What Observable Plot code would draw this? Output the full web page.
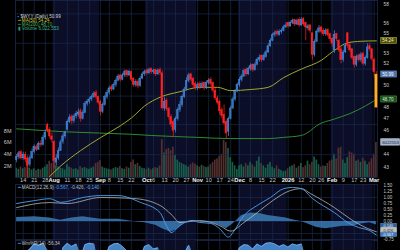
<!DOCTYPE html>
<html><head><meta charset="utf-8">
<script src="https://cdn.jsdelivr.net/npm/d3@7"></script>
<script src="https://cdn.jsdelivr.net/npm/@observablehq/plot@0.6"></script>
<style>
html,body{margin:0;padding:0;background:#000;}
#chart{position:relative;width:400px;height:250px;overflow:hidden;background:#000;}
#chart svg{position:absolute;left:0;display:block;}
</style></head><body><div id="chart"></div>
<script>
// ---------------- data ----------------
const symbol = "$WYY";
const firstSession = "2025-07-09";
const marketHolidays = ["2025-09-01","2025-11-27","2025-12-25","2026-01-01","2026-01-19","2026-02-16"];

const opens = [
43.55,43.8,44.2,43.7,44.0,43.7,43.2,43.7,44.2,44.6,
44.4,44.9,44.8,45.4,46.45,46.05,45.5,45.05,43.35,43.7,
44.3,45.05,45.5,46.05,46.7,47.15,46.8,47.2,47.35,47.65,
47.0,47.5,48.3,48.5,48.7,48.9,49.3,48.9,48.5,47.6,
48.2,48.9,49.3,49.8,49.6,50.0,50.4,50.9,50.5,50.9,
51.3,50.9,51.2,50.6,50.0,50.3,49.9,50.6,51.0,51.3,
51.1,51.5,51.2,51.4,51.0,51.4,51.1,47.9,48.6,47.85,
47.15,46.7,46.05,47.0,47.75,48.2,48.9,49.6,50.4,51.0,
50.6,50.1,49.7,50.1,49.8,50.2,49.7,50.2,50.5,50.2,
49.5,48.8,48.5,47.75,47.35,46.7,45.9,47.0,47.9,48.7,
49.4,50.0,50.5,50.8,51.4,51.0,51.5,51.9,51.4,51.9,
52.35,52.75,52.35,52.65,53.1,53.7,54.25,54.8,55.15,54.8,
55.15,55.25,55.6,56.05,55.7,56.05,56.35,55.9,56.35,55.8,
56.45,56.05,55.5,55.8,55.0,52.85,54.15,55.15,55.6,55.25,
54.9,55.35,54.9,54.45,53.3,54.9,54.25,53.4,52.35,53.1,
55.0,53.8,53.4,52.65,51.9,52.75,52.35,52.95,52.0,52.55,
53.7,53.4,52.35,47.97];
const highs = [
44.0,44.25,44.35,44.2,44.2,43.9,43.9,44.45,44.8,44.8,
45.05,45.15,45.6,46.05,46.6,46.25,45.8,45.15,44.0,44.55,
45.2,45.7,45.95,46.9,47.35,47.35,47.35,47.65,47.85,47.85,
47.75,48.5,48.7,48.9,49.1,49.4,49.5,49.0,48.6,48.4,
49.1,49.5,49.9,50.0,50.2,50.6,51.0,51.0,51.1,51.4,
51.4,51.4,51.3,50.7,50.5,50.5,50.8,51.2,51.4,51.5,
51.6,51.6,51.5,51.5,51.5,51.6,51.3,48.9,48.8,48.0,
47.35,46.9,47.15,47.95,48.5,49.1,49.8,50.7,51.1,51.1,
50.7,50.3,50.2,50.3,50.3,50.3,50.4,50.6,50.7,50.3,
49.7,49.0,48.6,47.95,48.2,46.9,47.15,48.1,48.9,49.6,
50.2,50.7,51.0,51.5,51.6,51.7,52.0,52.0,52.1,52.55,
52.85,52.85,52.95,53.3,53.95,54.45,55.0,55.25,55.35,55.35,
55.45,55.8,56.05,56.15,56.25,56.45,56.45,56.45,56.6,56.6,
56.6,56.15,55.9,55.9,55.1,54.35,55.35,55.8,55.7,55.45,
55.45,55.45,55.0,54.55,55.25,55.0,54.35,53.6,53.3,53.95,
55.1,53.95,53.5,52.75,52.85,52.95,53.1,53.1,52.75,53.95,
53.95,53.5,52.55,51.25];
const lows = [
43.35,43.6,43.55,43.55,43.35,42.1,43.0,43.6,44.05,44.25,
44.35,44.6,44.7,45.2,45.8,45.3,44.95,42.85,43.1,43.55,
44.25,44.85,45.3,45.95,46.6,46.5,46.6,47.0,47.15,46.7,
46.9,47.45,48.1,48.3,48.5,48.8,48.7,48.2,47.25,47.45,
48.1,48.7,49.1,49.4,49.5,49.8,50.3,50.3,50.4,50.7,
50.7,50.8,50.3,49.8,49.8,49.7,49.8,50.5,50.8,50.9,
51.0,51.0,51.0,50.8,50.9,50.9,47.75,47.65,47.65,46.9,
46.25,45.4,45.8,46.8,47.55,48.0,48.8,49.5,50.2,50.3,
49.8,49.5,49.5,49.6,49.7,49.5,49.6,50.0,49.9,49.3,
48.6,48.2,47.35,47.0,46.45,45.3,45.5,46.9,47.8,48.5,
49.3,49.8,50.3,50.7,50.8,50.9,51.3,51.2,51.3,51.8,
52.15,52.15,52.25,52.55,53.0,53.6,54.15,54.6,54.7,54.7,
54.9,55.15,55.5,55.5,55.6,55.9,55.7,55.8,55.6,55.7,
55.7,54.25,55.25,55.0,52.35,52.65,54.05,55.0,54.9,54.7,
54.7,54.6,54.15,53.6,53.0,54.15,53.1,52.0,52.15,53.0,
53.5,53.1,52.35,51.6,51.7,52.15,52.15,51.8,51.8,52.45,
53.2,52.25,50.7,47.9];
const closes = [
43.8,44.1,43.7,44.0,43.6,43.1,43.7,44.2,44.6,44.4,
44.9,44.8,45.4,45.8,46.0,45.5,45.2,43.5,43.7,44.3,
45.0,45.5,45.8,46.7,47.1,46.8,47.2,47.4,47.55,47.0,
47.5,48.3,48.5,48.7,48.9,49.2,48.9,48.4,47.6,48.2,
48.9,49.3,49.7,49.6,50.0,50.4,50.8,50.5,50.9,51.2,
50.9,51.2,50.5,50.0,50.3,49.9,50.6,51.0,51.2,51.1,
51.4,51.2,51.3,51.0,51.3,51.1,47.9,48.5,47.85,47.15,
46.5,45.95,47.0,47.75,48.2,48.9,49.6,50.4,50.9,50.5,
50.0,49.7,50.0,49.8,50.1,49.7,50.2,50.4,50.1,49.5,
48.8,48.4,47.65,47.25,46.6,45.75,47.0,47.9,48.7,49.4,
50.0,50.5,50.8,51.3,51.0,51.5,51.8,51.4,51.9,52.35,
52.55,52.35,52.75,53.1,53.7,54.25,54.8,55.0,54.9,55.15,
55.25,55.6,55.8,55.7,56.05,56.25,55.9,56.25,55.8,56.35,
55.9,55.6,55.7,55.25,52.85,54.15,55.15,55.5,55.15,54.9,
55.25,54.8,54.4,53.95,54.8,54.4,53.3,52.35,53.1,53.75,
53.75,53.3,52.55,51.9,52.65,52.35,52.85,52.0,52.55,53.6,
53.4,52.45,51.2,50.99];
const volumeMillions = [
1.6,1.4,1.8,1.5,1.7,2.6,1.6,1.3,1.5,1.2,
1.4,1.3,1.6,1.8,2.2,2.8,2.4,3.2,2.0,1.8,
1.6,1.5,1.3,2.2,1.8,1.6,1.4,1.5,1.3,1.9,
1.6,1.7,1.5,1.4,1.6,1.8,2.4,2.6,2.9,1.8,
1.6,1.5,1.4,1.3,1.5,1.7,1.6,1.9,1.5,1.4,
1.8,1.6,2.6,3.0,2.2,2.4,1.9,1.6,1.5,1.4,
1.6,1.3,1.5,1.7,1.6,2.0,6.5,4.2,4.8,5.0,
4.6,5.2,3.8,3.0,2.6,2.4,2.2,2.0,1.8,2.2,
2.5,2.3,2.0,1.8,2.1,1.9,1.7,1.8,2.2,2.6,
3.0,3.2,3.6,4.0,6.4,6.0,5.0,3.4,2.6,2.0,
1.4,2.0,2.2,1.8,2.4,2.0,2.6,2.2,1.8,2.8,
3.5,2.4,2.0,1.6,2.2,2.6,1.8,1.5,2.0,1.4,
1.2,1.0,1.1,1.5,1.8,2.0,2.2,1.6,1.9,2.4,
1.7,2.0,2.8,2.2,2.6,3.5,3.0,2.2,1.8,2.0,
1.9,2.4,2.8,3.0,4.0,3.2,5.0,5.2,3.0,2.4,
3.4,4.4,4.2,4.0,2.8,3.0,2.6,3.3,2.8,2.2,
2.6,3.2,4.0,6.02];

// moving averages, sampled along the trading-day index
const ma50Day = [14,20,29,38,47,52,58,65,74,83,91,97,106,114,121,129,138,144,150,156,163];
const ma50Val = [42.1,43.1,44.33,45.4,46.4,47.07,48.12,48.9,49.4,49.8,49.8,49.5,49.6,49.8,50.7,51.5,52.33,53.3,54.05,54.2,54.24];
const ma200Day = [0,23,52,61,82,97,114,121,129,133,136,144,151,158,163];
const ma200Val = [46.14,45.88,45.68,45.58,45.42,45.32,45.32,45.42,45.58,45.97,46.42,46.98,47.45,48.12,48.7];

// MACD(12,26,9)
const macdDay = [0,8,15,20,30,38,46,56,65,68,70,74,79,83,88,92,96,98,103,109,115,121,125,129,134,144,150,155,160,163];
const macdVal = [0.75,0.87,0.95,0.80,1.00,1.08,1.08,0.80,0.37,-0.2,-0.46,-0.17,0.04,-0.04,-0.08,-0.30,-0.65,-0.46,0.25,0.67,1.00,1.37,1.42,1.37,0.96,0.37,-0.04,-0.25,-0.38,-0.567];
const signalDay = [0,15,23,38,53,65,70,74,83,92,97,103,109,116,124,129,133,144,151,159,163];
const signalVal = [0.58,0.79,0.75,1.0,0.96,0.67,0.3,-0.04,0.04,-0.17,-0.40,-0.04,0.37,0.87,1.29,1.37,1.17,0.58,0.12,-0.29,-0.426];
const histDay = [0,8,15,20,25,30,38,46,53,58,63,66,70,73,76,80,84,88,92,95,98,102,106,110,114,118,122,126,129,132,136,140,144,148,152,156,160,163];
const histVal = [0.17,0.2,0.15,0.05,0.15,0.2,0.1,0.1,0.0,-0.05,-0.15,-0.3,-0.45,-0.3,-0.05,0.05,-0.05,-0.05,-0.15,-0.3,-0.1,0.25,0.35,0.33,0.25,0.2,0.15,0.05,0.0,-0.1,-0.25,-0.3,-0.25,-0.2,-0.2,-0.1,-0.05,-0.14];

// Williams %R(14)
const wmrDay = [0,3,6,8,10,12,14,16,17,19,21,23,25,27,29,31,33,35,37,38,40,42,44,46,48,50,52,54,56,58,60,62,64,66,68,71,73,75,77,78,80,82,85,87,89,91,93,95,97,99,101,103,105,107,109,111,113,115,117,119,121,123,125,127,129,131,134,136,138,140,142,144,146,148,150,152,154,156,158,160,162,163];
const wmrVal = [-30,-20,-12,-4,-6,-3,-15,-45,-85,-40,-10,-3,-8,-4,-25,-5,-3,-4,-40,-70,-25,-8,-4,-3,-8,-15,-45,-50,-25,-8,-5,-12,-10,-90,-92,-97,-60,-35,-12,-6,-25,-30,-35,-25,-55,-75,-90,-97,-55,-25,-10,-5,-6,-12,-4,-8,-3,-2,-4,-8,-5,-9,-4,-6,-4,-30,-85,-35,-30,-28,-45,-40,-65,-60,-55,-75,-70,-65,-70,-45,-80,-56.34];

// axis ticks and labels
const tickDates = ["2025-07-14","2025-07-21","2025-07-28","2025-08-01","2025-08-11","2025-08-18","2025-08-25","2025-09-02","2025-09-08","2025-09-15","2025-09-22","2025-10-01","2025-10-06","2025-10-13","2025-10-20","2025-10-27","2025-11-03","2025-11-10","2025-11-17","2025-11-24","2025-12-01","2025-12-08","2025-12-15","2025-12-22","2026-01-02","2026-01-12","2026-01-20","2026-01-26","2026-02-02","2026-02-09","2026-02-17","2026-02-23","2026-03-02"];
const tickLabels = ["14","21","28","Aug","11","18","25","Sep","8","15","22","Oct","6","13","20","27","Nov","10","17","24","Dec","8","15","22","2026","12","20","26","Feb","9","17","23","Mar"];
const priceTicks = [58,56,55,53,52,50,48,47,46,44,43];
const priceGrid = [57,54,51.5,49,46.5,44];
const volumeTicks = [2,4,6,8];
const macdTicks = [1.5,1.25,1,0.75,0.5,0.25,0,-0.75];
const macdGrid = [1,0.5,0,-0.5];

const lastClose = 50.99, lastMA50 = 54.24, lastMA200 = 48.70, lastVolume = 6022553;
const lastMACD = -0.567, lastSignal = -0.426, lastHist = -0.140, lastWmR = -56.34;

// ---------------- build ----------------
const FONT = '"Liberation Sans", Arial, sans-serif';
const C = {navy:"#0c0e27", grid:"#19294c", up:"#4a8ee0", upFill:"#3572c0", down:"#ff2222",
  lastFill:"#dcc21e", volUp:"#1b6650", volDown:"#5a3434", ma50:"#a6a62a", ma200:"#2f8a34",
  macd:"#4fa0ee", signal:"#b8b8b8", hist:"#3b7ab6", wmr:"#4a8fd8", text:"#c8c8c8"};

const tradingDays = [];
for (let t = Date.parse(firstSession + "T12:00:00Z"); tradingDays.length < closes.length; t += 864e5) {
  const d = new Date(t), wd = d.getUTCDay(), iso = d.toISOString().slice(0, 10);
  if (wd > 0 && wd < 6 && !marketHolidays.includes(iso)) tradingDays.push(iso);
}
const N = closes.length, LAST = N - 1;
const xDomain = [-0.5, N - 0.5];
const days = closes.map((c, i) => ({i, o: opens[i], h: highs[i], l: lows[i], c, v: volumeMillions[i]}));
const ticks = tickDates.map((d, k) => ({i: tradingDays.indexOf(d), label: tickLabels[k]}));
const monthTicks = ticks.filter(t => !/^\d{1,2}$/.test(t.label));
const dayTicks = ticks.filter(t => /^\d{1,2}$/.test(t.label));

const bands = [];
tradingDays.forEach((iso, i) => {
  const m = +iso.slice(5, 7) - 1, b = bands[bands.length - 1];
  if (b && b.m === m) b.x2 = i + 0.5; else bands.push({m, x1: i - 0.5, x2: i + 0.5});
});
const navyBands = bands.filter(b => b.m % 2 === 1);
const series = (ds, vs) => ds.map((i, k) => ({i, v: vs[k]}));

const ctx = document.createElement("canvas").getContext("2d");
const tw = (s, size) => { ctx.font = `${size}px "Liberation Sans"`; return ctx.measureText(s).width; };
function legendRow(segs, dx0, dy, size) {
  let dx = dx0; const out = [];
  for (const s of segs) {
    out.push(Plot.text([s.text], {text: d => d, frameAnchor: "top-left", dx, dy, fill: s.color,
      fontSize: size, textAnchor: "start", lineAnchor: "middle", fontFamily: FONT}));
    dx += tw(s.text, size) + 1.3;
  }
  return out;
}
// value box on the right edge; "at" is where the box sits (de-overlapped), label is the value
function valueBox(at, half, label, fill, stroke, color, size, x2 = 8.8) {
  return [
    Plot.rect([at], {x1: xDomain[1] + 1.7, x2: xDomain[1] + x2, y1: d => d - half, y2: d => d + half, fill, stroke, strokeWidth: 0.6}),
    Plot.text([at], {x: xDomain[1] + 2.1, y: d => d, text: () => label, textAnchor: "start", fill: color, fontSize: size, fontFamily: FONT})
  ];
}
function logBox(v, label, fill, stroke, color) {
  return [
    Plot.rect([v], {x1: xDomain[1] + 1.7, x2: xDomain[1] + 8.8, y1: d => d * 0.9944, y2: d => d * 1.0056, fill, stroke, strokeWidth: 0.6}),
    Plot.text([v], {x: xDomain[1] + 2.1, y: d => d, text: () => label, textAnchor: "start", fill: color, fontSize: 4.6, fontFamily: FONT})
  ];
}
const common = {width: 400, marginLeft: 15, marginRight: 23,
  style: {background: "transparent", color: C.text, fontFamily: FONT, overflow: "visible"}};
const gridX = Plot.ruleX(ticks, {x: "i", stroke: C.grid, strokeWidth: 0.7});
const bandMark = Plot.rect(navyBands, {x1: "x1", x2: "x2", fill: C.navy});
const frameMark = Plot.frame({stroke: C.grid, strokeWidth: 0.8});
const chart = document.getElementById("chart");
const place = (svg, top) => { svg.style.top = top + "px"; chart.append(svg); };

// volume panel + background + date labels
const volColor = d => (d.i > 0 ? d.c < closes[d.i - 1] : d.c < d.o) ? C.volDown : C.volUp;
place(Plot.plot({...common, height: 186, marginTop: 0, marginBottom: 9,
  x: {domain: xDomain, axis: null},
  y: {domain: [0, 30.4]},
  marks: [
    bandMark, gridX,
    Plot.rect(days, {x1: d => d.i - 0.38, x2: d => d.i + 0.38, y1: 0, y2: "v", fill: volColor, fillOpacity: 0.9}),
    Plot.axisY({anchor: "left", ticks: volumeTicks, tickFormat: d => d + "M", tickSize: 0, tickPadding: 4, fontSize: 5.5, label: null}),
    Plot.text(dayTicks, {x: "i", text: "label", frameAnchor: "bottom", dy: 4.6, fontSize: 5.6, fill: "#c4c4c4", fontFamily: FONT}),
    Plot.text(monthTicks, {x: "i", text: "label", frameAnchor: "bottom", dy: 4.6, fontSize: 5.8, fontWeight: "bold", fill: "#f2f2f2", fontFamily: FONT}),
    ...valueBox(lastVolume / 1e6, 0.55, String(lastVolume), "#9fb0c8", "#c8d4e4", "#1a2030", 4.3, 10.2),
    frameMark
  ]}), 0);

// price panel (log scale)
const candleStroke = d => d.i === LAST ? C.down : d.c < d.o ? C.down : C.up;
const candleFill = d => d.i === LAST ? C.lastFill : d.c < d.o ? C.down : C.upFill;
place(Plot.plot({...common, height: 177, marginTop: 0, marginBottom: 0,
  x: {domain: xDomain, axis: null},
  y: {type: "log", domain: [42.19, 58.42]},
  marks: [
    Plot.ruleY(priceGrid, {stroke: C.grid, strokeWidth: 0.7}),
    Plot.line(series(ma200Day, ma200Val), {x: "i", y: "v", stroke: C.ma200, strokeWidth: 1, curve: "monotone-x", clip: true}),
    Plot.line(series(ma50Day, ma50Val), {x: "i", y: "v", stroke: C.ma50, strokeWidth: 1, curve: "monotone-x", clip: true}),
    Plot.ruleX(days, {x: "i", y1: "l", y2: "h", stroke: candleStroke, strokeWidth: 0.7}),
    Plot.rect(days, {x1: d => d.i - (d.i === LAST ? 0.6 : 0.38), x2: d => d.i + (d.i === LAST ? 0.6 : 0.38),
      y1: d => Math.min(d.o, d.c), y2: d => Math.max(d.o, d.c), fill: candleFill, stroke: candleStroke, strokeWidth: 0.4}),
    Plot.axisY({anchor: "right", ticks: priceTicks, tickFormat: d => String(d), tickSize: 0, tickPadding: 6, fontSize: 4.9, label: null}),
    ...logBox(lastMA50, lastMA50.toFixed(2), "#4c4c14", "#b4b432", "#eeeeaa"),
    ...logBox(lastClose, lastClose.toFixed(2), "#4a72ad", "#6a92cc", "#ffffff"),
    ...logBox(lastMA200, lastMA200.toFixed(2), "#1d4a1f", "#3a9a3e", "#d6f2d6"),
    ...legendRow([{text: "▪", color: C.up}, {text: `${symbol} (Daily) ${lastClose.toFixed(2)}`, color: "#d6d6d6"}], 2, 16.3, 4.6),
    ...legendRow([{text: "━", color: C.ma50}, {text: `MA(50) ${lastMA50.toFixed(2)}`, color: "#c9c94a"}], 2, 20.2, 4.6),
    ...legendRow([{text: "━", color: C.ma200}, {text: `MA(200) ${lastMA200.toFixed(2)}`, color: "#4fb04f"}], 2, 24.1, 4.6),
    ...legendRow([{text: "▮", color: "#2a9a70"}, {text: `Volume ${d3.format(",")(lastVolume)}`, color: "#3fb08a"}], 2, 28.0, 4.6)
  ]}), 0);

// MACD panel; the three value boxes are stacked just under the 0.00 label
const macdDomain = [-0.79, 1.542];
const unitPx = 56 / (macdDomain[1] - macdDomain[0]);
const boxHalf = 2.1 / unitPx;
const stackTop = -(2.35 / unitPx) - boxHalf;     // first box sits right below the 0.00 label
const stackStep = 4.35 / unitPx;
place(Plot.plot({...common, height: 56, marginTop: 0, marginBottom: 0,
  x: {domain: xDomain, axis: null},
  y: {domain: macdDomain},
  marks: [
    bandMark, gridX,
    Plot.ruleY(macdGrid, {stroke: C.grid, strokeWidth: 0.7}),
    Plot.areaY(series(histDay, histVal), {x: "i", y: "v", fill: C.hist, fillOpacity: 0.85}),
    Plot.line(series(signalDay, signalVal), {x: "i", y: "v", stroke: C.signal, strokeWidth: 0.8, curve: "monotone-x"}),
    Plot.line(series(macdDay, macdVal), {x: "i", y: "v", stroke: C.macd, strokeWidth: 0.9, curve: "monotone-x"}),
    Plot.axisY({anchor: "right", ticks: macdTicks, tickFormat: d => d.toFixed(2), tickSize: 0, tickPadding: 6, fontSize: 4.5, label: null}),
    ...valueBox(stackTop, boxHalf, lastHist.toFixed(3), "#2f5f92", "#5a8cc4", "#e4eefa", 3.9),
    ...valueBox(stackTop - stackStep, boxHalf, lastSignal.toFixed(3), "#bdbdbd", "#e0e0e0", "#202020", 3.9),
    ...valueBox(stackTop - 2 * stackStep, boxHalf, lastMACD.toFixed(3), "#3f78b8", "#6aa0dc", "#ffffff", 3.9),
    ...legendRow([{text: "━", color: C.macd}, {text: "MACD(12,26,9)", color: "#c8c8c8"},
      {text: lastMACD.toFixed(3) + ",", color: C.macd}, {text: lastSignal.toFixed(3) + ",", color: C.signal},
      {text: lastHist.toFixed(3), color: "#6aa8e0"}], 2, 2.8, 4.6),
    frameMark
  ]}), 184);

// Williams %R panel (only its top shows)
place(Plot.plot({...common, height: 66, marginTop: 0, marginBottom: 0,
  x: {domain: xDomain, axis: null},
  y: {domain: [-100, 3], axis: null},
  marks: [
    bandMark, gridX,
    Plot.areaY(series(wmrDay, wmrVal), {x: "i", y1: -100, y2: "v", fill: C.wmr, fillOpacity: 0.9}),
    Plot.line(series(wmrDay, wmrVal), {x: "i", y: "v", stroke: "#7ab8f0", strokeWidth: 0.7}),
    ...legendRow([{text: "━", color: C.wmr}, {text: `Wm%R(14) ${lastWmR.toFixed(2)}`, color: "#c8c8c8"}], 2, 4.3, 4.6),
    frameMark
  ]}), 239);
</script>
</body></html>
